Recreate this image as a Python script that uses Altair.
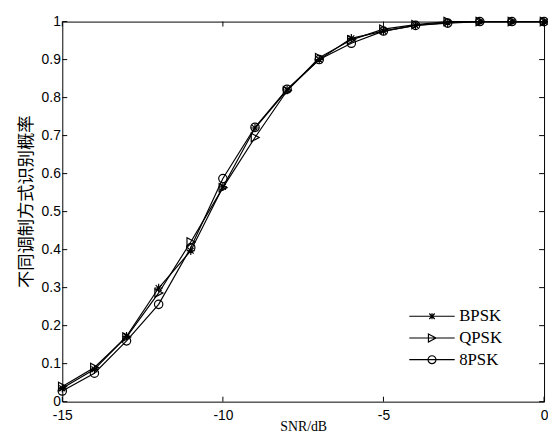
import altair as alt
import pandas as pd

snr = [-15, -14, -13, -12, -11, -10, -9, -8, -7, -6, -5, -4, -3, -2, -1, 0]
bpsk = [0.035, 0.085, 0.172, 0.299, 0.397, 0.565, 0.720, 0.820, 0.900, 0.956, 0.975, 0.990, 0.997, 1.000, 1.000, 1.000]
qpsk = [0.040, 0.090, 0.170, 0.286, 0.420, 0.563, 0.695, 0.818, 0.905, 0.952, 0.980, 0.992, 1.000, 1.000, 1.000, 1.000]
psk8 = [0.028, 0.075, 0.160, 0.256, 0.405, 0.587, 0.722, 0.822, 0.900, 0.943, 0.975, 0.990, 0.996, 1.000, 1.000, 1.000]

series = ["BPSK", "QPSK", "8PSK"]
x_ticks = [-15, -10, -5, 0]
y_ticks = [0, 0.1, 0.2, 0.3, 0.4, 0.5, 0.6, 0.7, 0.8, 0.9, 1.0]

rows = []
for name, vals in zip(series, [bpsk, qpsk, psk8]):
    for s, v in zip(snr, vals):
        rows.append({"snr": s, "p": v, "series": name})
df = pd.DataFrame(rows)
xt = pd.DataFrame({"snr": x_ticks})
yt = pd.DataFrame({"p": y_ticks})

W, H = 488, 385
TL = 5
SW = 1.2

star = "M0,-1V1M-1,0H1M-0.7,-0.7L0.7,0.7M-0.7,0.7L0.7,-0.7"
tri = "M-0.9,-1L1,0L-0.9,1Z"
circ = "M1,0A1,1,0,1,1,-1,0A1,1,0,1,1,1,0"
marker_paths = [star, tri, circ]
line_seg = "M-5.75,0H5.75"
legend_paths = [line_seg + star.replace("1", "0.75"), line_seg + tri, line_seg + circ]

xscale = alt.Scale(domain=[-15, 0], nice=False, zero=False)
yscale = alt.Scale(domain=[0, 1], nice=False, zero=False)

xaxis = alt.Axis(values=x_ticks, labelExpr="'' + datum.value", title="SNR/dB",
                 titleFont="Liberation Serif", titleFontSize=14, titleFontWeight="normal",
                 titleBaseline="middle", titleY=25,
                 labelFont="Liberation Sans", labelFontSize=14, labelPadding=7,
                 labelFlush=False, labelOverlap=False,
                 ticks=False, domain=False, grid=False, labelColor="black", titleColor="black")
yaxis = alt.Axis(values=y_ticks, format="~g", title="不同调制方式识别概率",
                 titleFont="Noto Sans CJK SC", titleFontSize=17.5, titleFontWeight="normal",
                 titleBaseline="middle", titleX=-36, titleY=182, titleAngle=-90,
                 labelFont="Liberation Sans", labelFontSize=14, labelPadding=2,
                 labelFlush=False, labelOverlap=False,
                 ticks=False, domain=False, grid=False, labelColor="black", titleColor="black")

X = alt.X("snr:Q", scale=xscale, axis=xaxis)
Y = alt.Y("p:Q", scale=yscale, axis=yaxis)

base = alt.Chart(df)
lines = base.mark_line(color="black", strokeWidth=SW).encode(
    x=X, y=Y, detail="series:N",
)
points = base.mark_point(filled=False, color="black", size=72, strokeWidth=SW, opacity=1).encode(
    x=X, y=Y,
    shape=alt.Shape("series:N", scale=alt.Scale(domain=series, range=marker_paths), legend=None),
)
legend_layer = base.transform_filter("false").mark_point(
    filled=False, color="black", strokeWidth=SW, opacity=1
).encode(
    x=X, y=Y,
    shape=alt.Shape("series:N", scale=alt.Scale(domain=series, range=legend_paths),
                    legend=alt.Legend(title=None, orient="none", legendX=343, legendY=290,
                                      symbolSize=64, symbolOffset=23, labelOffset=19,
                                      symbolStrokeColor="black", symbolFillColor="transparent",
                                      symbolStrokeWidth=SW, rowPadding=4, padding=0,
                                      labelFont="Liberation Serif", labelFontSize=17,
                                      labelColor="black", labelBaseline="middle")),
)

xb = alt.Chart(xt).mark_rule(color="black", strokeWidth=1).encode(
    x=X, y=alt.value(H), y2=alt.value(H - TL))
xtp = alt.Chart(xt).mark_rule(color="black", strokeWidth=1).encode(
    x=X, y=alt.value(0), y2=alt.value(TL))
yl = alt.Chart(yt).mark_rule(color="black", strokeWidth=1).encode(
    y=Y, x=alt.value(0), x2=alt.value(TL))
yr = alt.Chart(yt).mark_rule(color="black", strokeWidth=1).encode(
    y=Y, x=alt.value(W - TL), x2=alt.value(W))

chart = alt.layer(lines, points, legend_layer, xb, xtp, yl, yr).resolve_scale(
    shape="independent"
).properties(
    width=W, height=H,
    autosize=alt.AutoSizeParams(type="none"),
    padding={"left": 55, "top": 11, "right": 4, "bottom": 30},
    background="white",
).configure_view(stroke="black", strokeWidth=1)

chart.save("out.html", embed_options={"renderer": "svg", "actions": False})
